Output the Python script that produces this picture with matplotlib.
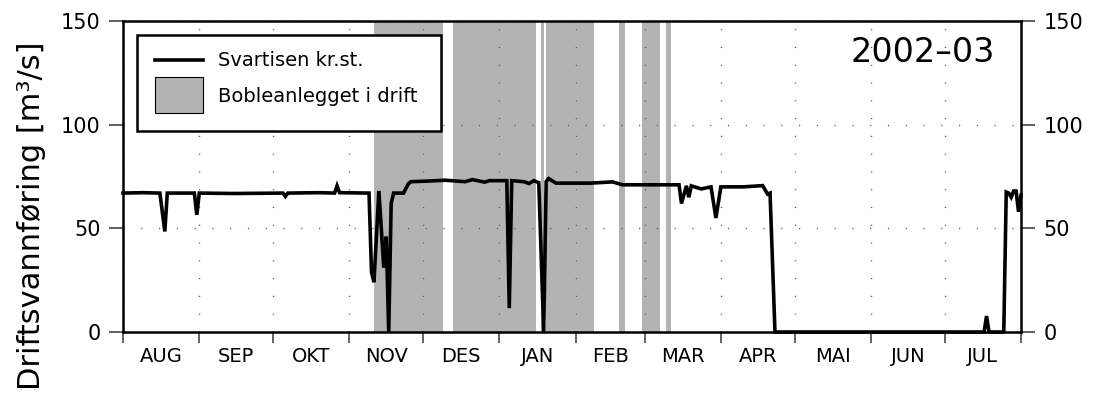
import matplotlib
matplotlib.use("Agg")
import matplotlib.pyplot as plt
from matplotlib.lines import Line2D
from matplotlib.patches import Rectangle
import pandas as pd

plt.rcParams['font.family'] = ['DejaVu Sans']

# Daily discharge at Svartisen power station, season 2002-03 (m3/s)
flow_dates = [
    "2002-08-01", "2002-08-09", "2002-08-16", "2002-08-18", "2002-08-19",
    "2002-08-30", "2002-08-31", "2002-09-01", "2002-09-15", "2002-10-05",
    "2002-10-06", "2002-10-07", "2002-10-20", "2002-10-26", "2002-10-27",
    "2002-10-28", "2002-11-09", "2002-11-10", "2002-11-11", "2002-11-13",
    "2002-11-15", "2002-11-16", "2002-11-17", "2002-11-18", "2002-11-19",
    "2002-11-23", "2002-11-25", "2002-11-26", "2002-12-03", "2002-12-10",
    "2002-12-18", "2002-12-21", "2002-12-26", "2002-12-28", "2003-01-03",
    "2003-01-04", "2003-01-05", "2003-01-06", "2003-01-11", "2003-01-13",
    "2003-01-15", "2003-01-17", "2003-01-19", "2003-01-20", "2003-01-21",
    "2003-01-24", "2003-02-07", "2003-02-16", "2003-02-20", "2003-03-04",
    "2003-03-15", "2003-03-16", "2003-03-18", "2003-03-19", "2003-03-20",
    "2003-03-24", "2003-03-28", "2003-03-30", "2003-04-01", "2003-04-10",
    "2003-04-18", "2003-04-20", "2003-04-21", "2003-04-23", "2003-07-17",
    "2003-07-18", "2003-07-19", "2003-07-25", "2003-07-26", "2003-07-27",
    "2003-07-28", "2003-07-29", "2003-07-30", "2003-07-31", "2003-08-01",
]
flow_values = [
    67.0, 67.2, 67.0, 48.5, 67.0,
    67.0, 56.5, 67.0, 66.8, 67.0,
    65.4, 67.0, 67.2, 67.0, 70.5,
    67.2, 67.0, 29.0, 24.0, 68.0,
    31.0, 46.0, 0.0, 62.0, 67.0,
    67.0, 71.5, 72.5, 72.8, 73.2,
    72.5, 73.5, 72.3, 73.0, 73.0,
    73.0, 11.5, 73.0, 72.5, 71.6,
    73.0, 72.0, 0.0, 72.5, 74.0,
    71.8, 71.8, 72.4, 71.0, 71.0,
    71.0, 62.0, 70.5, 65.0, 70.5,
    69.0, 70.0, 55.0, 70.0, 70.0,
    70.6, 66.5, 67.0, 0.0, 0.0,
    7.7, 0.0, 0.0, 67.5, 67.0,
    65.0, 68.0, 68.0, 58.0, 66.0,
]

# Periods with the bubble curtain in operation
bubble_start = [
    "2002-11-11", "2002-12-13", "2003-01-18", "2003-01-20",
    "2003-02-18 12:00", "2003-02-28", "2003-03-09 16:00",
]
bubble_end = [
    "2002-12-09", "2003-01-16", "2003-01-19", "2003-02-08 12:00",
    "2003-02-21", "2003-03-07 08:00", "2003-03-11 14:00",
]

month_labels = ["AUG", "SEP", "OKT", "NOV", "DES", "JAN",
                "FEB", "MAR", "APR", "MAI", "JUN", "JUL"]
season_start = "2002-08-01"
season_end = "2003-08-01"
y_ticks = [0, 50, 100, 150]
season_label = "2002\u201303"
legend_labels = ["Svartisen kr.st.", "Bobleanlegget i drift"]

W, H = 1101, 397
fig = plt.figure(figsize=(W / 100, H / 100), dpi=100)
ax = fig.add_axes([123 / W, 65 / H, 898 / W, 311 / H])

fill_color = "#b3b3b3"
for s, e in zip(bubble_start, bubble_end):
    ax.axvspan(pd.Timestamp(s), pd.Timestamp(e), color=fill_color, lw=0, zorder=1)

ax.plot(pd.to_datetime(flow_dates), flow_values, color="black", lw=2.6,
        solid_joinstyle="miter", zorder=3, clip_on=False)

ax.set_xlim(pd.Timestamp(season_start), pd.Timestamp(season_end))
ax.set_ylim(y_ticks[0], y_ticks[-1])

# month boundaries as major ticks, labels centred in each month
bounds = pd.date_range(season_start, season_end, freq="MS")
mids = [b + (bounds[i + 1] - b) / 2 for i, b in enumerate(bounds[:-1])]
ax.set_xticks(bounds)
ax.set_xticklabels([])
ax.set_xticks(mids, minor=True)
ax.set_xticklabels(month_labels, minor=True)
ax.tick_params(axis="x", which="major", direction="out", length=8,
               width=1.3, color="#555555")
ax.tick_params(axis="x", which="minor", length=0, pad=11, labelsize=14)

ax.set_yticks(y_ticks)
ax.tick_params(axis="y", direction="out", length=10, width=1.2,
               color="#444444", left=True, right=True,
               labelleft=True, labelright=True, labelsize=15, pad=6)

ax.grid(True, which="major", color="#555555", linestyle=(0, (0.8, 12)),
        linewidth=1.0)

for sp in ax.spines.values():
    sp.set_linewidth(1.8)
    sp.set_color("black")
    sp.set_zorder(4)


# legend box, laid out in pixel units from the top-left corner
def px(x, y):
    return x / W, 1 - y / H


fig.patches.append(Rectangle(px(137, 131), 304 / W, 96 / H,
                             transform=fig.transFigure, facecolor="white",
                             edgecolor="black", lw=1.8, zorder=5))
x0, y0 = px(155, 60)
x1, _ = px(203, 60)
fig.lines.append(Line2D([x0, x1], [y0, y0], color="black", lw=2.6,
                        transform=fig.transFigure, zorder=6))
fig.patches.append(Rectangle(px(155, 113), 48 / W, 36 / H,
                             transform=fig.transFigure, facecolor=fill_color,
                             edgecolor="black", lw=0.8, zorder=6))
for label, yc in zip(legend_labels, [60, 96]):
    tx, ty = px(218, yc)
    fig.text(tx, ty, label, ha="left", va="center", fontsize=14, zorder=7)

ax.text(0.971, 0.868, season_label, transform=ax.transAxes, ha="right",
        va="baseline", fontsize=24)

fig.text(32 / W, 1 - 216 / H, "Driftsvannf\u00f8ring [m\u00b3/s]",
         rotation=90, ha="center", va="center", fontsize=22)

fig.savefig("out.png", dpi=100)
